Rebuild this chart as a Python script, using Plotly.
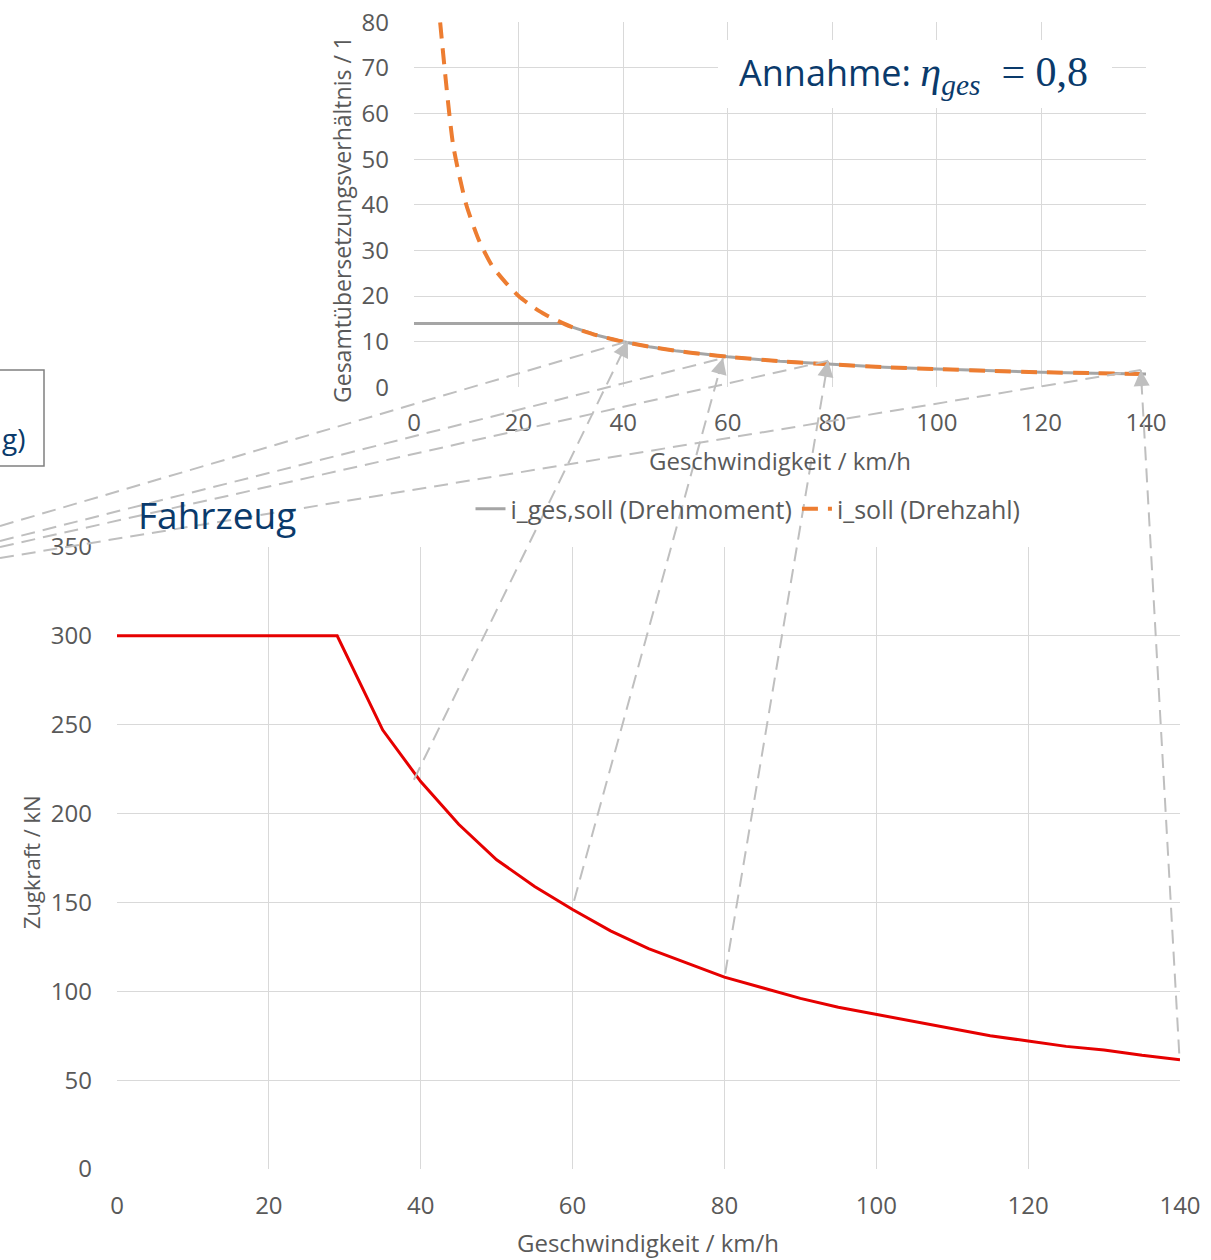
import math
import plotly.graph_objects as go

W, H = 1211, 1260

# ---------------- data ----------------
# bottom chart: Zugkraft over speed
v_zug = [0, 29, 35, 40, 45, 50, 55, 60, 65, 70, 75, 80, 85, 90, 95, 100,
         105, 110, 115, 120, 125, 130, 135, 140]
zugkraft = [300, 300, 247, 218, 194, 174, 159, 146, 134, 124, 116, 108, 102,
            96, 91, 87, 83, 79, 75, 72, 69, 67, 64, 61.5]

# top chart: transmission ratio
v_iges = [0, 28.5, 30, 35, 40, 45, 50, 55, 60, 70, 80, 90, 100, 110, 120, 130, 140]
i_ges = [14, 14, 13.3, 11.4, 10, 8.9, 8, 7.3, 6.7, 5.7, 5, 4.4, 4, 3.6, 3.3, 3.1, 2.9]
v_isoll = [5, 7.5, 10, 12.5, 15, 17.5, 20, 22.5, 25, 30, 35, 40, 45, 50, 55, 60,
           70, 80, 90, 100, 110, 120, 130, 140]
i_soll = [80, 53, 40, 32, 26.5, 23, 20, 17.8, 16, 13.3, 11.4, 10, 8.9, 8, 7.3, 6.7,
          5.7, 5, 4.4, 4, 3.6, 3.3, 3.1, 2.9]

x_ticks = [0, 20, 40, 60, 80, 100, 120, 140]
y_ticks_top = [0, 10, 20, 30, 40, 50, 60, 70, 80]
y_ticks_bot = [0, 50, 100, 150, 200, 250, 300, 350]

# connector arrows: start on Zugkraft curve (bottom), tip on ratio curve (top)
conn_start_v = [39.1, 60.2, 80.1, 139.9]
conn_start_f = [219, 151, 110, 65]
conn_tip_v = [40.9, 59.1, 79.2, 139.0]
conn_tip_i = [10.1, 6.4, 5.8, 3.8]

# ---------------- layout geometry (pixels) ----------------
TOP_X = (414, 1146)
TOP_Y = (387.3, 22.3)
BOT_X = (117, 1180)
BOT_Y = (1169, 547)
LEFT_START_PY = [526, 541, 547, 558]


def px_top(x, y):
    return (TOP_X[0] + x / 140 * (TOP_X[1] - TOP_X[0]),
            TOP_Y[0] + y / 80 * (TOP_Y[1] - TOP_Y[0]))


def px_bot(x, y):
    return (BOT_X[0] + x / 140 * (BOT_X[1] - BOT_X[0]),
            BOT_Y[0] + y / 350 * (BOT_Y[1] - BOT_Y[0]))


def pp(px, py):
    return px / W, 1 - py / H


FONT = "Open Sans"
GREY_TXT = "#595959"
GRID = "#D9D9D9"
BLUE = "#0A3A6B"
CONN = "#BFBFBF"

fig = go.Figure()

fig.add_trace(go.Scatter(x=v_zug, y=zugkraft, mode="lines",
                         line=dict(color="#E60000", width=3),
                         xaxis="x", yaxis="y", showlegend=False))
fig.add_trace(go.Scatter(x=v_iges, y=i_ges, mode="lines",
                         name="i_ges,soll (Drehmoment)",
                         line=dict(color="#A5A5A5", width=3),
                         xaxis="x2", yaxis="y2"))
fig.add_trace(go.Scatter(x=v_isoll, y=i_soll, mode="lines",
                         name="i_soll (Drehzahl)",
                         line=dict(color="#ED7D31", width=4, dash="16px,10px",
                                   shape="spline", smoothing=0.6),
                         xaxis="x2", yaxis="y2"))

axis_common = dict(showgrid=True, gridcolor=GRID, gridwidth=1, zeroline=False,
                   showline=False, ticks="", automargin=False,
                   tickfont=dict(family=FONT, size=24, color=GREY_TXT))

fig.update_layout(
    width=W, height=H,
    margin=dict(l=0, r=0, t=0, b=0, pad=0, autoexpand=False),
    paper_bgcolor="white", plot_bgcolor="white",
    font=dict(family=FONT, color=GREY_TXT),
    xaxis=dict(domain=[BOT_X[0] / W, BOT_X[1] / W], range=[0, 140],
               tickvals=x_ticks, ticklabelstandoff=20, anchor="y", **axis_common),
    yaxis=dict(domain=[1 - BOT_Y[0] / H, 1 - BOT_Y[1] / H], range=[0, 350],
               tickvals=y_ticks_bot, ticklabelstandoff=24, anchor="x", **axis_common),
    xaxis2=dict(domain=[TOP_X[0] / W, TOP_X[1] / W], range=[0, 140],
                tickvals=x_ticks, ticklabelstandoff=19, anchor="y2", **axis_common),
    yaxis2=dict(domain=[1 - TOP_Y[0] / H, 1 - TOP_Y[1] / H], range=[0, 80],
                tickvals=y_ticks_top, ticklabelstandoff=24, anchor="x2", **axis_common),
    legend=dict(orientation="h", x=748 / W, xanchor="center",
                y=1 - 509 / H, yanchor="middle",
                font=dict(family=FONT, size=25, color=GREY_TXT),
                bgcolor="rgba(0,0,0,0)", itemwidth=30),
)

shapes = []
annotations = []

# white box behind "Annahme"
x0, y0 = pp(718, 40)
x1, y1 = pp(1112, 108)
shapes.append(dict(type="rect", xref="paper", yref="paper", x0=x0, y0=y1, x1=x1, y1=y0,
                   fillcolor="white", line=dict(width=0), layer="above"))

# cut-off box on the left
x0, y0 = pp(-10, 370)
x1, y1 = pp(44, 466)
shapes.append(dict(type="rect", xref="paper", yref="paper", x0=x0, y0=y1, x1=x1, y1=y0,
                   fillcolor="rgba(0,0,0,0)", line=dict(color="#808080", width=1.5),
                   layer="above"))

dash_style = dict(color=CONN, width=2, dash="14px,8px")
for i in range(4):
    sx, sy = px_bot(conn_start_v[i], conn_start_f[i])
    tx, ty = px_top(conn_tip_v[i], conn_tip_i[i])
    a = pp(sx, sy)
    b = pp(tx, ty)
    shapes.append(dict(type="line", xref="paper", yref="paper",
                       x0=a[0], y0=a[1], x1=b[0], y1=b[1], line=dash_style, layer="above"))
    # shallow line from left
    c = pp(0, LEFT_START_PY[i])
    shapes.append(dict(type="line", xref="paper", yref="paper",
                       x0=c[0], y0=c[1], x1=b[0], y1=b[1], line=dash_style, layer="above"))
    # arrow head
    dx, dy = tx - sx, ty - sy
    L = math.hypot(dx, dy)
    annotations.append(dict(xref="paper", yref="paper", x=b[0], y=b[1], text="",
                            showarrow=True, axref="pixel", ayref="pixel",
                            ax=-dx / L * 18, ay=-dy / L * 18,
                            arrowhead=2, arrowsize=1.6, arrowwidth=2,
                            arrowcolor=CONN, standoff=0))

# axis titles
annotations += [
    dict(xref="paper", yref="paper", x=pp(780, 0)[0], y=pp(0, 460)[1],
         text="Geschwindigkeit / km/h", showarrow=False,
         font=dict(family=FONT, size=24, color=GREY_TXT), xanchor="center", yanchor="middle"),
    dict(xref="paper", yref="paper", x=pp(648, 0)[0], y=pp(0, 1242)[1],
         text="Geschwindigkeit / km/h", showarrow=False,
         font=dict(family=FONT, size=24, color=GREY_TXT), xanchor="center", yanchor="middle"),
    dict(xref="paper", yref="paper", x=pp(342, 0)[0], y=pp(0, 220)[1],
         text="Gesamtübersetzungsverhältnis / 1", showarrow=False, textangle=-90,
         font=dict(family=FONT, size=23, color=GREY_TXT), xanchor="center", yanchor="middle"),
    dict(xref="paper", yref="paper", x=pp(31, 0)[0], y=pp(0, 862)[1],
         text="Zugkraft / kN", showarrow=False, textangle=-90,
         font=dict(family=FONT, size=22, color=GREY_TXT), xanchor="center", yanchor="middle"),
]

# text labels
annotations += [
    dict(xref="paper", yref="paper", x=pp(737, 0)[0], y=pp(0, 74)[1],
         text=("Annahme: <span style='font-family:Liberation Serif;font-size:42px'>"
               "<i>η</i><sub><i>ges</i></sub> &nbsp;= 0,8</span>"),
         showarrow=False, font=dict(family=FONT, size=36, color=BLUE),
         xanchor="left", yanchor="middle"),
    dict(xref="paper", yref="paper", x=pp(217, 0)[0], y=pp(0, 514)[1],
         text="Fahrzeug", showarrow=False, font=dict(family=FONT, size=37, color=BLUE),
         xanchor="center", yanchor="middle"),
    dict(xref="paper", yref="paper", x=pp(27, 0)[0], y=pp(0, 438)[1],
         text="g)", showarrow=False, font=dict(family=FONT, size=28, color=BLUE),
         xanchor="right", yanchor="middle"),
]

fig.update_layout(shapes=shapes, annotations=annotations)

fig.write_html("out.html", config={"displayModeBar": False},
               post_script="document.body.style.margin='0';")
